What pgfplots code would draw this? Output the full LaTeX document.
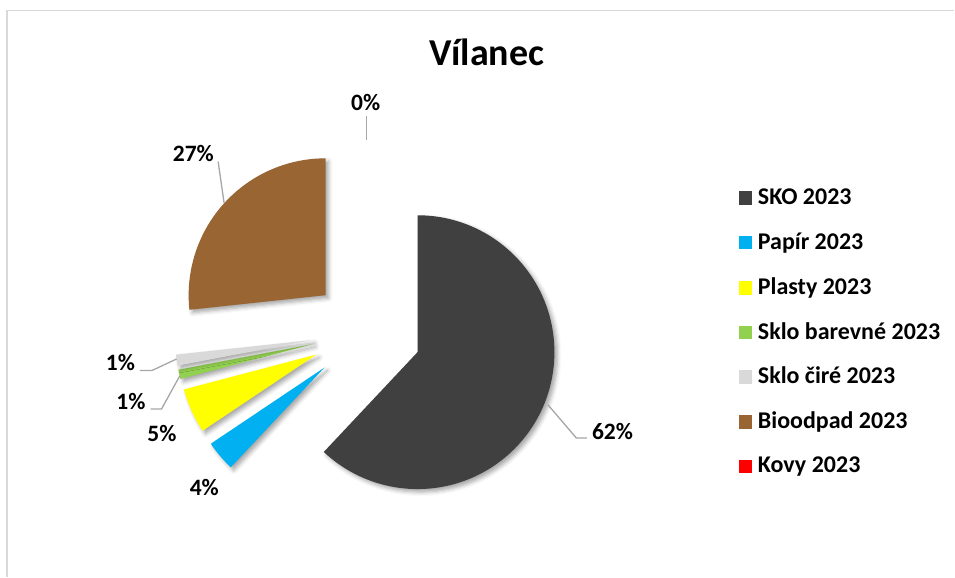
\documentclass[border=0pt]{standalone}
\usepackage{pgfplots}
\pgfplotsset{compat=1.18}
\usepackage{pgfplotstable}
\usepackage{fontspec}
\setmainfont{Carlito}
\usetikzlibrary{calc,shadows.blur}
\definecolor{slice0}{HTML}{404040}
\definecolor{slice1}{HTML}{00B0F0}
\definecolor{slice2}{HTML}{FFFF00}
\definecolor{slice3}{HTML}{92D050}
\definecolor{slice4}{HTML}{D9D9D9}
\definecolor{slice5}{HTML}{996633}
\definecolor{slice6}{HTML}{FF0000}
\definecolor{leader}{HTML}{A6A6A6}
\definecolor{frame}{HTML}{D9D9D9}
\pgfplotstableread[col sep=comma]{
name,value
SKO 2023,62.0
Papír 2023,3.6
Plasty 2023,5.3
Sklo barevné 2023,1.1
Sklo čiré 2023,1.3
Bioodpad 2023,26.7
Kovy 2023,0.0
}\datatable
\begin{document}
\begin{tikzpicture}
\gdef\cumsum{0}
\foreach \i in {0,...,6}{
  \pgfplotstablegetelem{\i}{value}\of\datatable
  \pgfmathsetmacro\tmpSa{90-3.6*\cumsum}
  \pgfmathsetmacro\tmpCum{\cumsum+\pgfplotsretval}
  \pgfmathsetmacro\tmpEa{90-3.6*\tmpCum}
  \expandafter\xdef\csname sa\i\endcsname{\tmpSa}
  \expandafter\xdef\csname ea\i\endcsname{\tmpEa}
  \xdef\cumsum{\tmpCum}
}
\begin{axis}[
  width=955pt, height=577pt, scale only axis,
  xmin=0, xmax=955, ymin=0, ymax=577,
  axis lines=none, clip=false,
]
\path (axis cs:0,0) rectangle (axis cs:955,577);
% frame
\draw[frame, line width=1.5pt] (axis cs:7,0) -- (axis cs:7,566.5) -- (axis cs:955,566.5);
% slices
\pgfplotsinvokeforeach{0,...,5}{
  \fill[slice#1, blur shadow={shadow xshift=3pt, shadow yshift=-3pt, shadow blur radius=4pt, shadow opacity=35}]
    ($(axis cs:366.7,244.8)+({(\csname sa#1\endcsname+\csname ea#1\endcsname)/2}:55pt)$)
    -- ++(\csname sa#1\endcsname:137pt)
    arc[start angle=\csname sa#1\endcsname, end angle=\csname ea#1\endcsname, radius=137pt]
    -- cycle;
}
% leader lines
\draw[leader, line width=1.3pt] (axis cs:367,461) -- (axis cs:367,437);
\draw[leader, line width=1.3pt] (axis cs:218.3,415.3) -- (axis cs:224.3,373.7);
\draw[leader, line width=1.3pt] (axis cs:140,206.3) -- (axis cs:152.3,206.3) -- (axis cs:176.7,217.7);
\draw[leader, line width=1.3pt] (axis cs:150.7,167.7) -- (axis cs:161.7,167.7) -- (axis cs:180,201);
\draw[leader, line width=1.3pt] (axis cs:548.3,172) -- (axis cs:576.7,138.7) -- (axis cs:587.3,138.7);
% data labels
\begin{scope}[every node/.style={font=\fontsize{23.5}{26}\selectfont\bfseries, inner sep=0pt, anchor=base}]
\node at (axis cs:613,137) {62\%};
\node at (axis cs:193.5,415.3) {27\%};
\node at (axis cs:366,466.3) {0\%};
\node at (axis cs:120.5,206.3) {1\%};
\node at (axis cs:131,167) {1\%};
\node at (axis cs:162,135.3) {5\%};
\node at (axis cs:204.5,81) {4\%};
\end{scope}
% title
\node[font=\fontsize{38}{42}\selectfont\bfseries, inner sep=0pt, anchor=base] at (axis cs:487,511) {Vílanec};
% legend
\begin{scope}[every node/.style={font=\fontsize{24}{28}\selectfont\bfseries, inner sep=0pt, anchor=base west}]
\fill[slice0] (axis cs:739.3,372.05) rectangle (axis cs:752.7,385.35);
\node at (axis cs:758.3,372.05) {SKO 2023};
\fill[slice1] (axis cs:739.3,327.65) rectangle (axis cs:752.7,340.95);
\node at (axis cs:758.3,327.65) {Papír 2023};
\fill[slice2] (axis cs:739.3,282.05) rectangle (axis cs:752.7,295.35);
\node at (axis cs:758.3,282.05) {Plasty 2023};
\fill[slice3] (axis cs:739.3,237.65) rectangle (axis cs:752.7,250.95);
\node at (axis cs:758.3,237.65) {Sklo barevné 2023};
\fill[slice4] (axis cs:739.3,193.05) rectangle (axis cs:752.7,206.35);
\node at (axis cs:758.3,193.05) {Sklo čiré 2023};
\fill[slice5] (axis cs:739.3,148.05) rectangle (axis cs:752.7,161.35);
\node at (axis cs:758.3,148.05) {Bioodpad 2023};
\fill[slice6] (axis cs:739.3,103.65) rectangle (axis cs:752.7,116.95);
\node at (axis cs:758.3,103.65) {Kovy 2023};
\end{scope}
\end{axis}
\end{tikzpicture}
\end{document}
